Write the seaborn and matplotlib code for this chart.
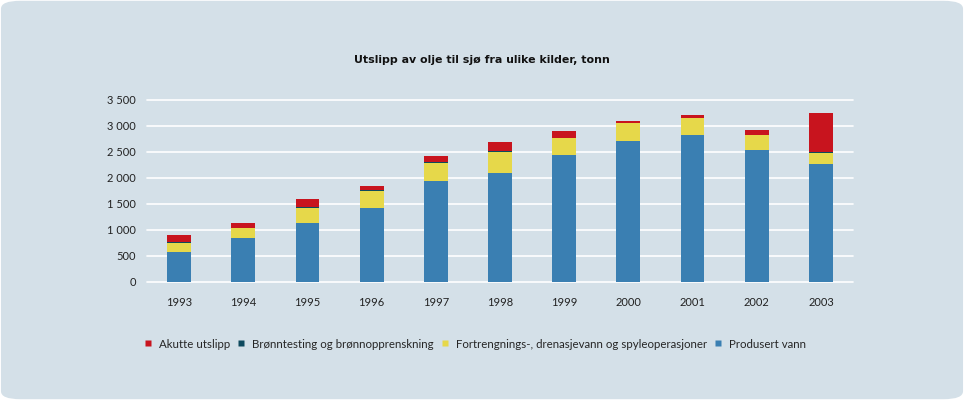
import matplotlib
matplotlib.use("Agg")
import matplotlib.pyplot as plt
import seaborn as sns
import pandas as pd
from matplotlib.patches import FancyBboxPatch
from matplotlib.lines import Line2D
from matplotlib.ticker import FuncFormatter, FixedLocator

years = [1993, 1994, 1995, 1996, 1997, 1998, 1999, 2000, 2001, 2002, 2003]
produsert = [575, 843, 1137, 1425, 1936, 2102, 2447, 2703, 2818, 2543, 2268]
fortrengning = [170, 192, 281, 319, 352, 403, 313, 351, 332, 275, 218]
bronntesting = [20, 13, 25, 19, 25, 13, 5, 5, 5, 5, 5]
akutte = [130, 89, 148, 84, 115, 179, 142, 46, 66, 104, 754]

series_names = ["Akutte utslipp", "Brønntesting og brønnopprenskning",
                "Fortrengnings-, drenasjevann og spyleoperasjoner", "Produsert vann"]
series_vals = [akutte, bronntesting, fortrengning, produsert]
colors = ["#c8141e", "#0e4a5e", "#e6d84a", "#3a7fb2"]
yticks = [0, 500, 1000, 1500, 2000, 2500, 3000, 3500]
title = "Utslipp av olje til sjø fra ulike kilder, tonn"

rows = []
for name, vals in zip(series_names, series_vals):
    for y, v in zip(years, vals):
        rows.append({"year": y, "value": v, "series": name})
df = pd.DataFrame(rows)

sns.set_theme(style="white")
plt.rcParams["font.family"] = ["Lato", "DejaVu Sans"]

bg = "#d4e0e8"
fig = plt.figure(figsize=(9.64, 4.0), dpi=100)
fig.patch.set_facecolor("white")
fig.patches.append(FancyBboxPatch((0.001, 0.002), 0.998, 0.996,
                                  boxstyle="round,pad=0,rounding_size=0.02",
                                  transform=fig.transFigure, facecolor=bg,
                                  edgecolor="none", zorder=-10))

ax = fig.add_axes([147/964, 1-282/400, (853-147)/964, 182/400])
ax.set_facecolor(bg)
ax.patch.set_alpha(0)

sns.histplot(data=df, x="year", weights="value", hue="series",
             hue_order=series_names, palette=colors, multiple="stack",
             discrete=True, shrink=0.37, alpha=1, linewidth=0,
             legend=False, ax=ax, zorder=3)

ax.set_xlim(years[0]-0.5, years[-1]+0.5)
ax.set_ylim(0, 3500)
ax.set_yticks(yticks)
ax.yaxis.set_major_formatter(FuncFormatter(lambda v, p: f"{int(v):,}".replace(",", " ")))
ax.set_xticks(years)
ax.set_xticklabels([str(y) for y in years])
ax.xaxis.set_minor_locator(FixedLocator([y - 0.5 for y in years] + [years[-1] + 0.5]))

for y in yticks:
    ax.axhline(y, color="white", linewidth=1.2, zorder=1, clip_on=False)

for s in ax.spines.values():
    s.set_visible(False)

ax.tick_params(axis="x", which="major", length=0, pad=11, labelsize=8, labelcolor="#222222")
ax.tick_params(axis="x", which="minor", length=4, direction="in", color="white", width=1)
ax.tick_params(axis="y", length=0, pad=8, labelsize=8, labelcolor="#222222")
ax.set_xlabel("")
ax.set_ylabel("")

fig.text(0.5, 1-60/400, title, ha="center", va="center", fontsize=7.9,
         fontweight="bold", family=["DejaVu Sans"], color="#111111")

handles = [Line2D([0], [0], marker="s", linestyle="none", markersize=5,
                  markerfacecolor=c, markeredgecolor="none") for c in colors]
fig.legend(handles, series_names, loc="center left", ncol=4,
           bbox_to_anchor=(132/964, 1-344/400), frameon=False, fontsize=8.3,
           handletextpad=0.45, columnspacing=0.45, handlelength=1.0)

fig.savefig("out.png", dpi=100, facecolor=fig.get_facecolor())
